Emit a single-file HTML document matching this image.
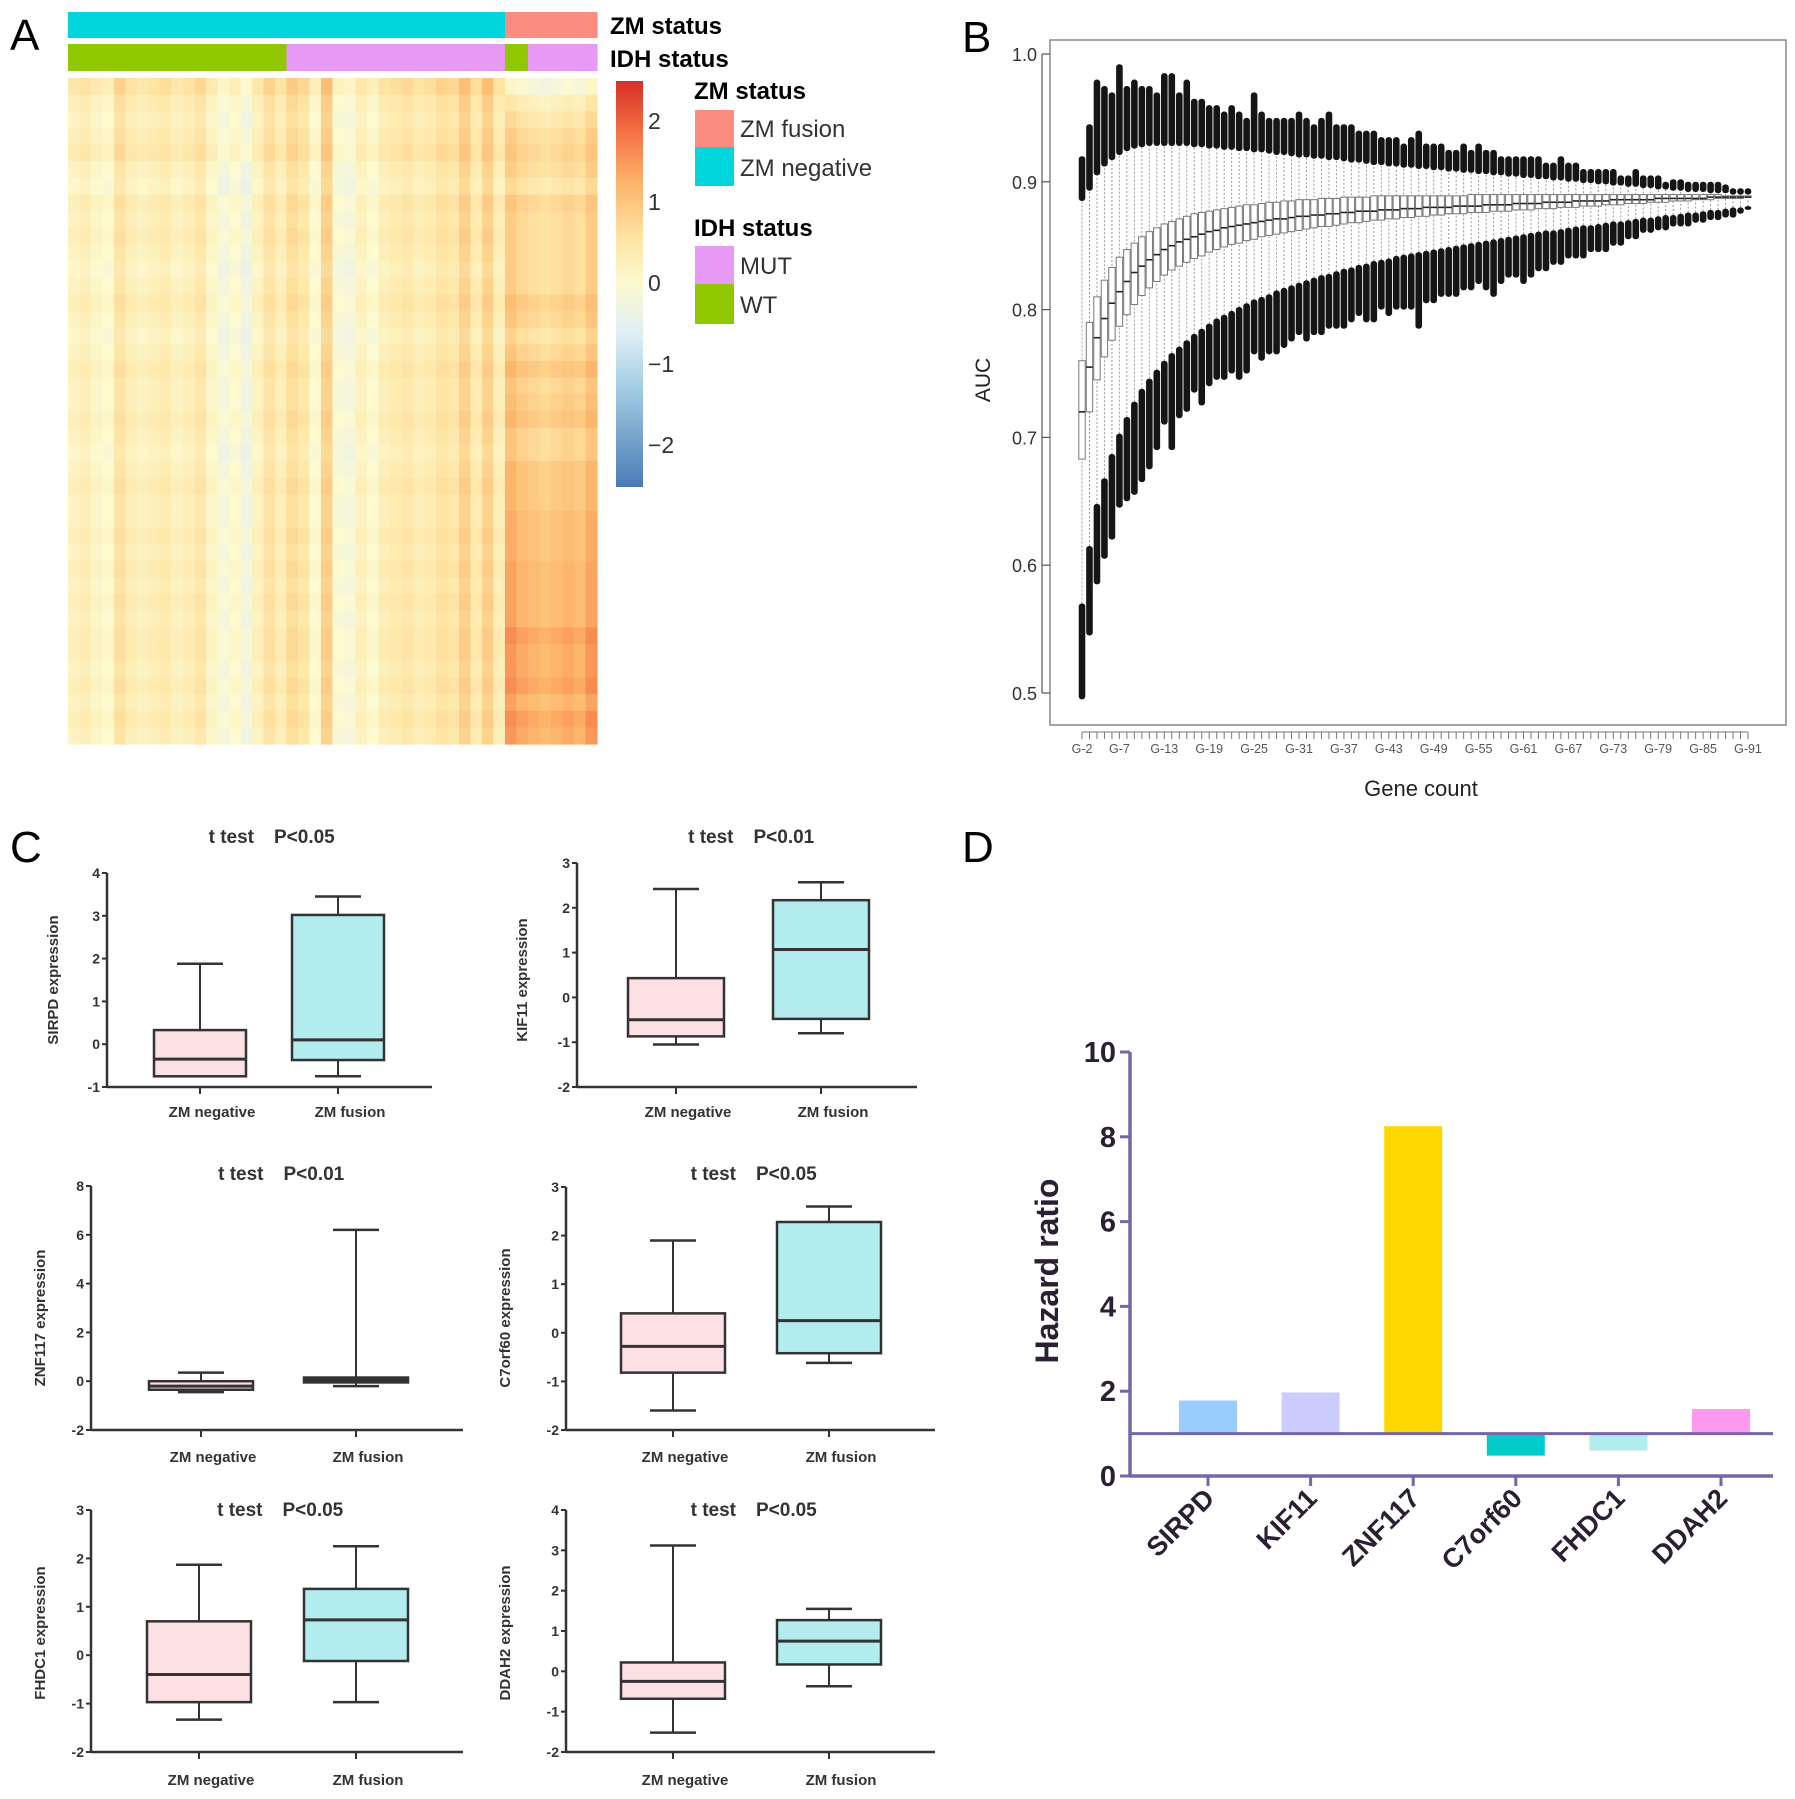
<!DOCTYPE html>
<html><head><meta charset="utf-8"><style>
html,body{margin:0;padding:0;background:#fff}
svg{display:block;font-family:"Liberation Sans",sans-serif}
</style></head><body>
<svg id="root" width="1795" height="1799" viewBox="0 0 1795 1799" xmlns="http://www.w3.org/2000/svg">
<text x="10" y="50" font-size="44">A</text>
<text x="962" y="52" font-size="44">B</text>
<text x="10" y="862" font-size="44">C</text>
<text x="962" y="862" font-size="44">D</text>
<g id="gA"></g>
<g id="gB"></g>
<g id="gC"></g>
<g id="gD"></g>
</svg>
<script>
// ===== Panel A data =====
const zmStatus = ["neg","neg","neg","neg","neg","neg","neg","neg","neg","neg","neg","neg","neg","neg","neg","neg","neg","neg","neg","neg","neg","neg","neg","neg","neg","neg","neg","neg","neg","neg","neg","neg","neg","neg","neg","neg","neg","neg","fus","fus","fus","fus","fus","fus","fus","fus"];
const idhStatus = ["WT","WT","WT","WT","WT","WT","WT","WT","WT","WT","WT","WT","WT","WT","WT","WT","WT","WT","WT","MUT","MUT","MUT","MUT","MUT","MUT","MUT","MUT","MUT","MUT","MUT","MUT","MUT","MUT","MUT","MUT","MUT","MUT","MUT","WT","WT","MUT","MUT","MUT","MUT","MUT","MUT"];
const colMeans = [0.2,0.3,0.1,0.0,0.6,0.3,0.2,0.3,0.4,0.2,0.3,0.5,0.1,-0.2,0.0,-0.3,0.2,0.6,0.3,0.7,0.5,0.0,0.9,-0.1,-0.2,0.2,0.0,0.3,0.4,0.5,0.3,0.4,0.6,0.5,0.9,0.4,0.9,0.3,0.9,0.7,0.6,0.5,0.6,0.7,0.6,0.9];
const rowMeans = [0.3,0.1,0.0,0.1,0.2,0.0,-0.1,0.1,0.0,0.1,0.0,-0.1,0.0,0.1,0.0,-0.1,0.0,0.1,0.0,0.0,0.1,0.0,-0.1,0.0,0.1,0.0,0.0,0.1,0.0,0.1,0.0,0.1,0.0,0.1,0.1,0.0,0.1,0.0,0.1,0.0];
const fusionTrend = [-1.0,-0.4,-0.1,0.0,0.0,0.1,0.0,0.1,0.1,0.0,0.1,0.2,0.1,0.2,0.2,0.1,0.2,0.3,0.2,0.3,0.3,0.2,0.3,0.4,0.3,0.4,0.5,0.4,0.5,0.5,0.6,0.5,0.6,0.7,0.6,0.7,0.7,0.6,0.7,0.7];
const colorbarTicks = [2,1,0,-1,-2];

// ===== Panel B data (G-2 .. G-91) =====
const geneCounts = []; for (let g=2; g<=91; g++) geneCounts.push(g);
const aucMedian = [.720,.755,.778,.793,.805,.814,.822,.829,.834,.839,.843,.847,.850,.853,.855,.857,.859,.861,.862,.864,.865,.866,.867,.868,.869,.870,.871,.871,.872,.873,.873,.874,.874,.875,.875,.876,.876,.877,.877,.877,.878,.878,.878,.879,.879,.879,.880,.880,.880,.880,.881,.881,.881,.881,.882,.882,.882,.882,.883,.883,.883,.883,.884,.884,.884,.884,.885,.885,.885,.885,.885,.886,.886,.886,.886,.886,.886,.887,.887,.887,.887,.887,.887,.887,.888,.888,.888,.888,.888,.888];
const aucQ1 = [.683,.720,.745,.763,.776,.787,.796,.804,.811,.817,.822,.827,.831,.834,.837,.840,.842,.845,.847,.849,.851,.852,.854,.855,.857,.858,.859,.860,.861,.862,.863,.864,.865,.865,.866,.867,.868,.868,.869,.870,.870,.871,.871,.872,.872,.873,.873,.874,.874,.875,.875,.875,.876,.876,.876,.877,.877,.877,.878,.878,.878,.879,.879,.879,.880,.880,.880,.881,.881,.881,.882,.882,.882,.883,.883,.883,.884,.884,.884,.885,.885,.885,.886,.886,.886,.887,.887,.887,.887,.888];
const aucQ3 = [.760,.790,.810,.823,.833,.841,.847,.852,.857,.861,.864,.867,.869,.871,.873,.875,.876,.877,.878,.879,.880,.881,.882,.882,.883,.884,.884,.885,.885,.886,.886,.886,.887,.887,.887,.888,.888,.888,.888,.889,.889,.889,.889,.889,.889,.889,.889,.889,.889,.889,.889,.889,.890,.890,.890,.890,.890,.890,.890,.890,.890,.890,.890,.890,.890,.890,.890,.890,.890,.890,.890,.890,.890,.890,.890,.890,.890,.890,.890,.890,.890,.890,.890,.890,.890,.890,.889,.889,.889,.889];
const aucHiWhisker = [.885,.893,.905,.912,.917,.921,.924,.926,.927,.928,.928,.928,.928,.928,.928,.927,.927,.926,.926,.925,.925,.924,.924,.923,.923,.922,.921,.921,.920,.919,.919,.918,.918,.917,.917,.916,.915,.915,.914,.913,.913,.912,.912,.911,.911,.910,.910,.909,.909,.908,.908,.907,.907,.906,.906,.905,.905,.904,.904,.903,.903,.902,.902,.901,.901,.900,.900,.899,.899,.898,.898,.897,.897,.896,.896,.895,.895,.894,.894,.893,.893,.892,.892,.892,.891,.891,.891,.890,.890,.890];
const aucHiOutlier = [.920,.945,.980,.975,.970,.992,.975,.980,.975,.975,.970,.985,.985,.970,.980,.965,.965,.960,.960,.955,.960,.955,.950,.970,.955,.950,.950,.950,.950,.955,.950,.945,.950,.955,.945,.945,.945,.940,.940,.940,.935,.935,.935,.930,.935,.940,.930,.930,.930,.925,.925,.930,.925,.930,.925,.925,.920,.920,.920,.920,.920,.920,.915,.915,.920,.915,.915,.910,.910,.910,.910,.910,.905,.905,.910,.905,.905,.905,.900,.902,.902,.900,.900,.900,.900,.900,.898,.895,.895,.895];
const aucLoWhisker = [.570,.615,.648,.668,.687,.703,.716,.728,.738,.746,.753,.760,.766,.771,.776,.781,.785,.789,.793,.796,.799,.802,.805,.808,.810,.812,.815,.817,.819,.821,.823,.825,.827,.828,.830,.832,.833,.835,.836,.838,.839,.840,.842,.843,.844,.845,.846,.847,.848,.849,.850,.851,.852,.853,.854,.855,.856,.857,.858,.859,.860,.861,.862,.862,.863,.864,.865,.866,.866,.867,.868,.869,.869,.870,.871,.872,.872,.873,.874,.874,.875,.876,.876,.877,.878,.878,.879,.880,.880,.881];
const aucLoOutlier = [.495,.545,.585,.605,.620,.645,.650,.655,.665,.675,.690,.710,.690,.715,.720,.735,.725,.740,.745,.745,.750,.745,.750,.765,.760,.765,.765,.770,.775,.780,.775,.780,.780,.785,.785,.785,.790,.795,.790,.790,.800,.795,.800,.800,.800,.785,.805,.805,.810,.810,.810,.815,.815,.820,.815,.810,.820,.825,.825,.820,.825,.830,.830,.835,.835,.840,.840,.840,.845,.845,.845,.850,.850,.855,.855,.860,.860,.862,.862,.865,.865,.865,.868,.868,.870,.870,.872,.872,.875,.878];
const aucTicks = [0.5,0.6,0.7,0.8,0.9,1.0];

// ===== Panel C data =====
const cGenes = ["SIRPD","KIF11","ZNF117","C7orf60","FHDC1","DDAH2"];
const cTitles = ["P<0.05","P<0.01","P<0.01","P<0.05","P<0.05","P<0.05"];
const negMin = [-0.75,-1.05,-0.45,-1.6,-1.33,-1.52];
const negQ1  = [-0.75,-0.87,-0.35,-0.82,-0.97,-0.68];
const negMed = [-0.35,-0.5,-0.2,-0.28,-0.4,-0.25];
const negQ3  = [0.33,0.43,0.0,0.4,0.7,0.22];
const negMax = [1.88,2.42,0.35,1.9,1.87,3.12];
const fusMin = [-0.75,-0.8,-0.2,-0.62,-0.97,-0.37];
const fusQ1  = [-0.37,-0.48,-0.05,-0.42,-0.12,0.17];
const fusMed = [0.1,1.07,0.05,0.25,0.73,0.75];
const fusQ3  = [3.02,2.17,0.15,2.28,1.37,1.27];
const fusMax = [3.45,2.57,6.2,2.6,2.25,1.55];
const yMinC = [-1,-2,-2,-2,-2,-2];
const yMaxC = [4,3,8,3,3,4];
const yStepC = [1,1,2,1,1,1];

// ===== Panel D data =====
const dGenes = ["SIRPD","KIF11","ZNF117","C7orf60","FHDC1","DDAH2"];
const hazard = [1.78,1.97,8.25,0.48,0.6,1.58];
const dTicks = [0,2,4,6,8,10];

const NS="http://www.w3.org/2000/svg";
function mk(tag, attrs, parent){const e=document.createElementNS(NS,tag);for(const k in attrs)e.setAttribute(k,attrs[k]);parent.appendChild(e);return e;}
function txt(parent, x, y, s, attrs){const e=mk('text',Object.assign({x:x,y:y},attrs||{}),parent);e.textContent=s;return e;}

// ===== Panel A =====
(function(){
  const g=document.getElementById('gA');
  const x0=68,x1=597,y0=78,y1=744;
  const nC=colMeans.length,nR=rowMeans.length;
  const cw=(x1-x0)/nC,rh=(y1-y0)/nR;
  const stops=[[-2.5,[74,123,183]],[-1.25,[166,207,228]],[-0.6,[224,239,245]],[0,[253,250,208]],[0.6,[254,226,160]],[1.25,[253,180,105]],[1.9,[244,109,67]],[2.5,[215,48,39]]];
  function col(v){v=Math.max(-2.5,Math.min(2.5,v));for(let i=1;i<stops.length;i++){if(v<=stops[i][0]){const a=stops[i-1],b=stops[i];const t=(v-a[0])/(b[0]-a[0]);const c=a[1].map((q,j)=>Math.round(q+(b[1][j]-q)*t));return 'rgb('+c.join(',')+')';}}return 'rgb(215,48,39)';}
  for(let c=0;c<nC;c++){
    const zm=mk('rect',{x:x0+c*cw,y:12,width:cw+0.6,height:26,fill:zmStatus[c]==='fus'?'#fa8d7f':'#00d5dc'},g);
    
    
    const idh=mk('rect',{x:x0+c*cw,y:44,width:cw+0.6,height:27,fill:idhStatus[c]==='WT'?'#8fc800':'#e699f5'},g);
    
    
    for(let r=0;r<nR;r++){
      const v=colMeans[c]*0.9+rowMeans[r]+(zmStatus[c]==='fus'?fusionTrend[r]:0);
      const cell=mk('rect',{x:x0+c*cw,y:y0+r*rh,width:cw+0.6,height:rh+0.6,fill:col(v)},g);
      
      
    }
  }
  txt(g,610,34,'ZM status',{'font-size':24,'font-weight':'bold',});
  txt(g,610,67,'IDH status',{'font-size':24,'font-weight':'bold',});
  const defs=mk('defs',{},g);
  const lg=mk('linearGradient',{id:'cbg',x1:0,y1:0,x2:0,y2:1},defs);
  for(let i=stops.length-1;i>=0;i--){const s=stops[i];mk('stop',{offset:((2.5-s[0])/5*100)+'%','stop-color':'rgb('+s[1].join(',')+')'},lg);}
  mk('rect',{x:616,y:81,width:27,height:406,fill:'url(#cbg)',},g);
  colorbarTicks.forEach(t=>{
    const e=txt(g,648,283-t*81+8,(t<0?'\u2212':'')+Math.abs(t),{'font-size':23,fill:'#333'});
    
    
  });
  txt(g,694,99,'ZM status',{'font-size':24,'font-weight':'bold',});
  mk('rect',{x:695,y:110,width:39,height:37,fill:'#fa8d7f',},g);
  mk('rect',{x:695,y:147,width:39,height:39,fill:'#00d5dc',},g);
  txt(g,740,137,'ZM fusion',{'font-size':24,fill:'#333',});
  txt(g,740,176,'ZM negative',{'font-size':24,fill:'#333',});
  txt(g,694,236,'IDH status',{'font-size':24,'font-weight':'bold',});
  mk('rect',{x:695,y:246,width:39,height:38,fill:'#e699f5',},g);
  mk('rect',{x:695,y:284,width:39,height:40,fill:'#8fc800',},g);
  txt(g,740,274,'MUT',{'font-size':24,fill:'#333',});
  txt(g,740,313,'WT',{'font-size':24,fill:'#333',});
})();

// ===== Panel B =====
(function(){
  const g=document.getElementById('gB');
  const L=1050,R=1786,T=40,B=725;
  const y=v=>54+(1.0-v)*1278;
  const x=i=>1082+i*(1748-1082)/89;
  mk('rect',{x:L,y:T,width:R-L,height:B-T,fill:'none',stroke:'#888','stroke-width':1.5,},g);
  aucTicks.forEach(t=>{
    mk('line',{x1:L-8,x2:L,y1:y(t),y2:y(t),stroke:'#555','stroke-width':1.2},g);
    const e=txt(g,L-13,y(t)+7,t.toFixed(1),{'font-size':18,fill:'#333','text-anchor':'end'});
    
    
  });
  mk('line',{x1:L-8,x2:L-8,y1:y(0.5),y2:y(1.0),stroke:'#555','stroke-width':1.2},g);
  txt(g,0,0,'AUC',{'font-size':21,fill:'#222','text-anchor':'middle',transform:'translate(990,380) rotate(-90)',});
  geneCounts.forEach((gc,i)=>{
    const cx=x(i);
    mk('line',{x1:cx,x2:cx,y1:B+7,y2:B+14,stroke:'#777','stroke-width':1},g);
    const wl=mk('line',{x1:cx,x2:cx,y1:y(aucLoWhisker[i]),y2:y(aucHiWhisker[i]),stroke:'#999','stroke-width':1,'stroke-dasharray':'2,2'},g);
    
    
    const hb=mk('rect',{x:cx-3.3,y:y(aucHiOutlier[i]),width:6.6,height:y(aucHiWhisker[i])-y(aucHiOutlier[i]),fill:'#151515',rx:3},g);
    
    
    const lb=mk('rect',{x:cx-3.3,y:y(aucLoWhisker[i]),width:6.6,height:y(aucLoOutlier[i])-y(aucLoWhisker[i]),fill:'#151515',rx:3},g);
    
    
    const bx=mk('rect',{x:cx-3.2,y:y(aucQ3[i]),width:6.4,height:Math.max(1,y(aucQ1[i])-y(aucQ3[i])),fill:'#fff',stroke:'#777','stroke-width':1},g);
    
    
    const md=mk('line',{x1:cx-3.2,x2:cx+3.2,y1:y(aucMedian[i]),y2:y(aucMedian[i]),stroke:'#222','stroke-width':1.6},g);
    
    
  });
  mk('line',{x1:x(0),x2:x(89),y1:B+7,y2:B+7,stroke:'#777','stroke-width':1},g);
  geneCounts.forEach((gc,i)=>{
    if(gc===2||(gc-1)%6===0){
      const e=txt(g,x(i),B+28,'G-'+gc,{'font-size':12.5,fill:'#555','text-anchor':'middle'});
      
      
    }
  });
  txt(g,1421,796,'Gene count',{'font-size':22,fill:'#222','text-anchor':'middle',});
})();

// ===== Panel C =====
(function(){
  const g=document.getElementById('gC');
  const panels=[
    {ax:107,ae:432,top:873,bot:1087,c1:200,c2:338,hw:46,ty:843,lx:58,ly:980,xl:1117},
    {ax:577,ae:917,top:863,bot:1087,c1:676,c2:821,hw:48,ty:843,lx:527,ly:980,xl:1117},
    {ax:91,ae:463,top:1186,bot:1430,c1:201,c2:356,hw:52,ty:1180,lx:45,ly:1318,xl:1462},
    {ax:566,ae:935,top:1187,bot:1430,c1:673,c2:829,hw:52,ty:1180,lx:510,ly:1318,xl:1462},
    {ax:91,ae:463,top:1510,bot:1752,c1:199,c2:356,hw:52,ty:1516,lx:45,ly:1633,xl:1785},
    {ax:566,ae:935,top:1510,bot:1752,c1:673,c2:829,hw:52,ty:1516,lx:510,ly:1633,xl:1785}
  ];
  panels.forEach((p,k)=>{
    const sub=mk('g',{},g);
    
    
    const y=v=>p.bot-(v-yMinC[k])*(p.bot-p.top)/(yMaxC[k]-yMinC[k]);
    mk('line',{x1:p.ax,x2:p.ax,y1:p.top,y2:p.bot,stroke:'#333','stroke-width':2.5},sub);
    mk('line',{x1:p.ax,x2:p.ae,y1:p.bot,y2:p.bot,stroke:'#333','stroke-width':2.5},sub);
    for(let t=yMinC[k];t<=yMaxC[k];t+=yStepC[k]){
      mk('line',{x1:p.ax-5,x2:p.ax,y1:y(t),y2:y(t),stroke:'#333','stroke-width':2},sub);
      const e=txt(sub,p.ax-7,y(t)+5,String(t),{'font-size':14,'font-weight':'bold',fill:'#333','text-anchor':'end'});
      
      
    }
    const groups=[[p.c1,negMin[k],negQ1[k],negMed[k],negQ3[k],negMax[k],'#fde0e4','ZM negative'],[p.c2,fusMin[k],fusQ1[k],fusMed[k],fusQ3[k],fusMax[k],'#b3ecee','ZM fusion']];
    groups.forEach((gr,j)=>{
      const [cx,mn,q1,md,q3,mx,fill,lab]=gr;
      mk('line',{x1:cx,x2:cx,y1:p.bot,y2:p.bot+7,stroke:'#333','stroke-width':2},sub);
      const w=mk('line',{x1:cx,x2:cx,y1:y(mx),y2:y(mn),stroke:'#333','stroke-width':2},sub);
      
      
      mk('line',{x1:cx-23,x2:cx+23,y1:y(mx),y2:y(mx),stroke:'#333','stroke-width':2.5},sub);
      mk('line',{x1:cx-23,x2:cx+23,y1:y(mn),y2:y(mn),stroke:'#333','stroke-width':2.5},sub);
      const b=mk('rect',{x:cx-p.hw,y:y(q3),width:2*p.hw,height:Math.max(2,y(q1)-y(q3)),fill:fill,stroke:'#333','stroke-width':2.5},sub);
      
      
      mk('line',{x1:cx-p.hw,x2:cx+p.hw,y1:y(md),y2:y(md),stroke:'#333','stroke-width':3},sub);
      const e=txt(sub,cx+12,p.xl,lab,{'font-size':15,'font-weight':'bold',fill:'#333','text-anchor':'middle'});
      
      
    });
    const mid=(p.c1+p.c2)/2+3;
    const t1=txt(sub,mid-18,p.ty,'t test',{'font-size':19,'font-weight':'bold',fill:'#333','text-anchor':'end'});
    
    
    const t2=txt(sub,mid+2,p.ty,cTitles[k],{'font-size':19,'font-weight':'bold',fill:'#333','text-anchor':'start'});
    
    
    const yl=txt(sub,0,0,cGenes[k]+' expression',{'font-size':15,'font-weight':'bold',fill:'#333','text-anchor':'middle',transform:'translate('+p.lx+','+p.ly+') rotate(-90)'});
    
    
  });
})();

// ===== Panel D =====
(function(){
  const g=document.getElementById('gD');
  const ax=1130,ae=1773,y0=1476,unit=42.4;
  const y=v=>y0-v*unit;
  const xs=i=>1208+i*102.6;
  const colors=['#99ccff','#ccccff','#ffd700','#00cccc','#b3ecec','#ff99ee'];
  dGenes.forEach((gn,i)=>{
    const top=Math.min(y(hazard[i]),y(1)),h=Math.abs(y(hazard[i])-y(1));
    const b=mk('rect',{x:xs(i)-29,y:top,width:58,height:h,fill:colors[i]},g);
    
    
    mk('line',{x1:xs(i),x2:xs(i),y1:y0,y2:y0+10,stroke:'#7466a8','stroke-width':3},g);
    const t=txt(g,0,0,gn,{'font-size':27,'font-weight':'bold',fill:'#2a1f33','text-anchor':'end',transform:'translate('+(xs(i)+8)+','+(y0+24)+') rotate(-45)'});
    
    
  });
  mk('line',{x1:ax,x2:ax,y1:y(10),y2:y0,stroke:'#7466a8','stroke-width':3.5,},g);
  mk('line',{x1:ax,x2:ae,y1:y0,y2:y0,stroke:'#7466a8','stroke-width':3.5,},g);
  mk('line',{x1:ax,x2:ae,y1:y(1),y2:y(1),stroke:'#7466a8','stroke-width':3,},g);
  dTicks.forEach(t=>{
    mk('line',{x1:ax-10,x2:ax,y1:y(t),y2:y(t),stroke:'#7466a8','stroke-width':3},g);
    const e=txt(g,ax-14,y(t)+10,String(t),{'font-size':29,'font-weight':'bold',fill:'#2a1f33','text-anchor':'end'});
    
    
  });
  txt(g,0,0,'Hazard ratio',{'font-size':32,'font-weight':'bold',fill:'#2a1f33','text-anchor':'middle',transform:'translate(1058,1271) rotate(-90)',});
})();
</script>
</body></html>
